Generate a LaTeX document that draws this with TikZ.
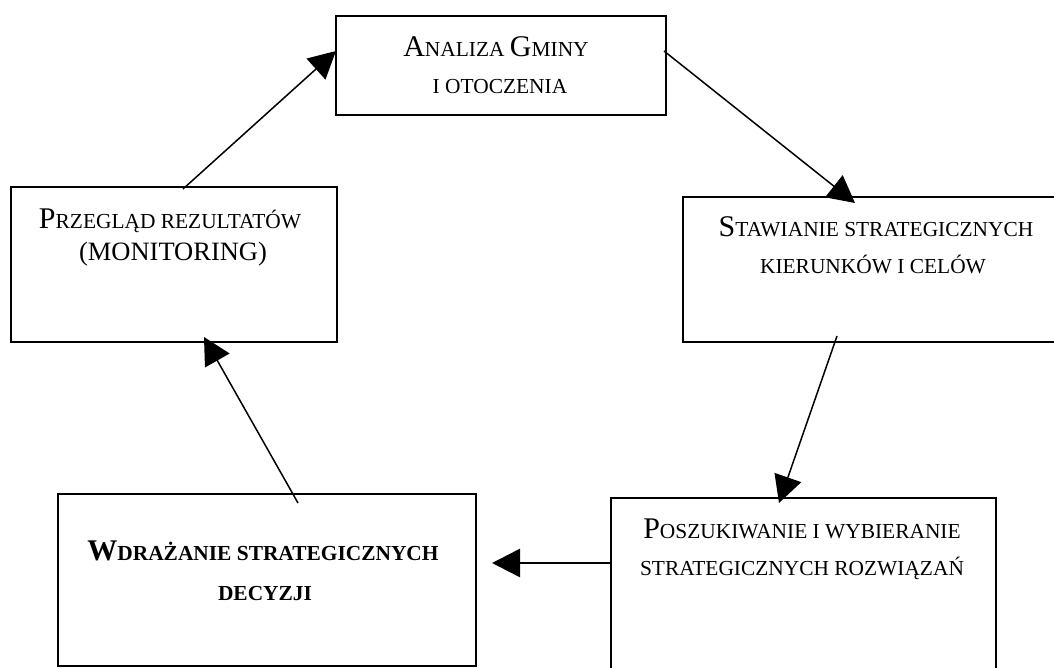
\documentclass[tikz,border=0pt]{standalone}
\usepackage{fontspec}
\setmainfont{Liberation Serif}
\usetikzlibrary{arrows.meta}
\newcommand\xbig[1]{{\fontsize{30}{35}\selectfont #1}}
\newcommand\xsm[1]{{\fontsize{21.4}{25}\selectfont #1}}
\newcommand\xmid[1]{{\fontsize{26.5}{31}\selectfont #1}}
\tikzset{
  box/.style={draw, line width=2pt, inner sep=0pt, outer sep=0pt, fill=none},
  txt/.style={anchor=base, inner sep=0pt, outer sep=0pt},
  conn/.style={line width=1.5pt, -{Triangle[length=27pt,width=28pt]}},
  connthick/.style={line width=2.6pt, -{Triangle[length=28pt,width=28pt]}}
}
\begin{document}
\begin{tikzpicture}[x=1pt,y=-1pt]
\clip (0,0) rectangle (1054,668);
\fill[white] (0,0) rectangle (1054,668);
% boxes
\node[box, minimum width=330pt, minimum height=99pt] (A) at (501,65.5) {};
\node[box, minimum width=386pt, minimum height=145pt] (B) at (876,269.5) {};
\node[box, minimum width=385pt, minimum height=202pt] (C) at (803.5,599) {};
\node[box, minimum width=418pt, minimum height=172pt] (D) at (267,580) {};
\node[box, minimum width=326pt, minimum height=155pt] (E) at (174,264.5) {};
% texts
\node[txt] (A1) at (496,57) {\xbig{A}\xsm{NALIZA }\xbig{G}\xsm{MINY}};
\node[txt] (A2) at (500,94) {\xsm{I OTOCZENIA}};
\node[txt] (E1) at (170,229) {\xbig{P}\xsm{RZEGLĄD REZULTATÓW}};
\node[txt] (E2) at (173,261) {\xmid{(MONITORING)}};
\node[txt] (B1) at (876,237) {\xbig{S}\xsm{TAWIANIE STRATEGICZNYCH}};
\node[txt] (B2) at (873,273) {\xsm{KIERUNKÓW I CELÓW}};
\node[txt] (C1) at (802,538) {\xbig{P}\xsm{OSZUKIWANIE I WYBIERANIE}};
\node[txt] (C2) at (802,575) {\xsm{STRATEGICZNYCH ROZWIĄZAŃ}};
\node[txt] (D1) at (263,560) {\bfseries\xbig{W}\xsm{DRAŻANIE STRATEGICZNYCH}};
\node[txt] (D2) at (265,600) {\bfseries\xsm{DECYZJI}};
% connectors
\draw[conn] ([xshift=172pt,yshift=-2pt]E.north west) -- ([yshift=14.5pt]A.west);
\draw[conn] ([xshift=-2pt,yshift=14.5pt]A.east) -- ([xshift=172pt,yshift=-6pt]B.north west);
\draw[conn] ([xshift=154pt,yshift=6pt]B.south west) -- ([xshift=168pt,yshift=-5pt]C.north west);
\draw[connthick] ([yshift=36pt]C.west) -- ([xshift=16pt,yshift=17pt]D.east);
\draw[conn] ([xshift=240pt,yshift=-9pt]D.north west) -- ([xshift=193pt,yshift=5pt]E.south west);
\end{tikzpicture}
\end{document}
